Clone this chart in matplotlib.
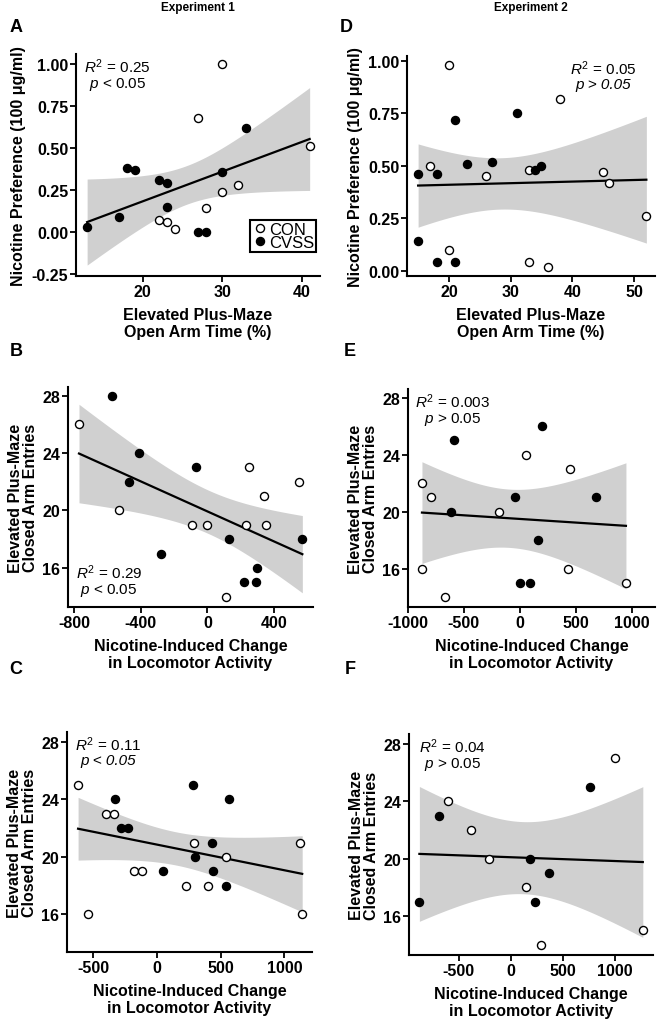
import matplotlib
matplotlib.use('Agg')
import matplotlib.pyplot as plt
import numpy as np
from math import gamma

plt.rcParams['font.family'] = ['Liberation Sans', 'DejaVu Sans']
plt.rcParams['mathtext.fontset'] = 'custom'
plt.rcParams['mathtext.rm'] = 'Liberation Sans'
plt.rcParams['mathtext.it'] = 'Liberation Sans:italic'
plt.rcParams['axes.unicode_minus'] = False

# ---- data ----
# A: Experiment 1, open arm time vs nicotine preference
a_con_x = [22, 23, 24, 27, 28, 30, 30, 32, 41]
a_con_y = [0.07, 0.06, 0.02, 0.68, 0.14, 1.00, 0.24, 0.28, 0.51]
a_cvss_x = [13, 17, 18, 19, 22, 23, 23, 27, 28, 30, 33]
a_cvss_y = [0.03, 0.09, 0.38, 0.37, 0.31, 0.29, 0.15, 0.00, 0.00, 0.36, 0.62]

# D: Experiment 2, open arm time vs nicotine preference
d_con_x = [17, 20, 20, 26, 33, 33, 36, 38, 45, 46, 52]
d_con_y = [0.50, 0.98, 0.10, 0.45, 0.48, 0.04, 0.02, 0.82, 0.47, 0.42, 0.26]
d_cvss_x = [15, 15, 18, 18, 21, 21, 23, 27, 31, 34, 35]
d_cvss_y = [0.46, 0.14, 0.46, 0.04, 0.72, 0.04, 0.51, 0.52, 0.75, 0.48, 0.50]

# B: Experiment 1, locomotor change vs closed arm entries
b_con_x = [-770, -530, -90, 0, 230, 250, 340, 350, 550, 110]
b_con_y = [26, 20, 19, 19, 19, 23, 21, 19, 22, 14]
b_cvss_x = [-570, -410, -470, -70, -280, 130, 570, 300, 220, 290]
b_cvss_y = [28, 24, 22, 23, 17, 18, 18, 16, 15, 15]

# E: Experiment 2, locomotor change vs closed arm entries
e_con_x = [-875, -795, -190, 60, 450, -875, 430, 950, -670]
e_con_y = [22, 21, 20, 24, 23, 16, 16, 15, 14]
e_cvss_x = [-590, 200, -615, -40, 680, 160, 0, 95]
e_cvss_y = [25, 26, 20, 21, 21, 18, 15, 15]

# C: Experiment 1, locomotor change vs closed arm entries
c_con_x = [-620, -400, -340, -180, -120, 290, 540, 225, 400, 1120, -540, 1140]
c_con_y = [25, 23, 23, 19, 19, 21, 20, 18, 18, 21, 16, 16]
c_cvss_x = [-330, -280, -230, 280, 565, 435, 300, 50, 440, 545]
c_cvss_y = [24, 22, 22, 25, 24, 21, 20, 19, 19, 18]

# F: Experiment 2, locomotor change vs closed arm entries
f_con_x = [1000, -600, -380, -210, 145, 290, 1270]
f_con_y = [27, 24, 22, 20, 18, 14, 15]
f_cvss_x = [-880, -690, 180, 370, 235, 760]
f_cvss_y = [17, 23, 20, 19, 17, 25]

stats_a = ('0.25', '0.05', '<', False)
stats_d = ('0.05', '0.05', '>', True)
stats_b = ('0.29', '0.05', '<', False)
stats_e = ('0.003', '0.05', '>', False)
stats_c = ('0.11', '0.05', '<', True)
stats_f = ('0.04', '0.05', '>', False)


def t_crit(df, q=0.975):
    x = np.linspace(0, 12, 240001)
    c = gamma((df + 1) / 2) / (np.sqrt(df * np.pi) * gamma(df / 2))
    pdf = c * (1 + x ** 2 / df) ** (-(df + 1) / 2)
    cdf = 0.5 + np.cumsum(pdf) * (x[1] - x[0])
    return x[np.searchsorted(cdf, q)]


def fit_band(x, y):
    x = np.asarray(x, float)
    y = np.asarray(y, float)
    n = len(x)
    b, a = np.polyfit(x, y, 1)
    xs = np.linspace(x.min(), x.max(), 200)
    yhat = a + b * xs
    resid = y - (a + b * x)
    s = np.sqrt(np.sum(resid ** 2) / (n - 2))
    se = s * np.sqrt(1 / n + (xs - x.mean()) ** 2 / np.sum((x - x.mean()) ** 2))
    t = t_crit(n - 2)
    return xs, yhat, yhat - t * se, yhat + t * se


def panel(ax, con_x, con_y, cvss_x, cvss_y, xlim, ylim, xticks, yticks, yfmt):
    allx = list(con_x) + list(cvss_x)
    ally = list(con_y) + list(cvss_y)
    xs, yhat, lo, hi = fit_band(allx, ally)
    ax.fill_between(xs, lo, hi, color='#d0d0d0', lw=0, zorder=1)
    ax.plot(xs, yhat, color='black', lw=1.6, zorder=2)
    ax.plot(con_x, con_y, 'o', ms=5.8, mfc='white', mec='black', mew=1.0, zorder=3, label='CON')
    ax.plot(cvss_x, cvss_y, 'o', ms=5.8, mfc='black', mec='black', mew=1.0, zorder=3, label='CVSS')
    ax.set_xlim(xlim)
    ax.set_ylim(ylim)
    ax.set_xticks(xticks)
    ax.set_yticks(yticks)
    ax.set_yticklabels([yfmt.format(v) for v in yticks])
    for s in ['top', 'right']:
        ax.spines[s].set_visible(False)
    for s in ['left', 'bottom']:
        ax.spines[s].set_linewidth(1.5)
    ax.tick_params(width=1.3, length=4, labelsize=11.5, pad=1.5)
    for lab in ax.get_xticklabels() + ax.get_yticklabels():
        lab.set_fontweight('bold')


def stat_text(ax, x, y, stats):
    r2, p, sign, ital = stats
    ax.text(x, y, r'$R^2$ = ' + r2, transform=ax.transAxes, fontsize=11,
            ha='center', va='top')
    if ital:
        ax.text(x, y - 0.085, 'p ' + sign + ' ' + p, transform=ax.transAxes,
                fontsize=11, ha='center', va='top', style='italic')
    else:
        ax.text(x, y - 0.085, r'$p$ ' + sign + ' ' + p, transform=ax.transAxes,
                fontsize=11, ha='center', va='top')


fig = plt.figure(figsize=(6.58, 10.2), dpi=100)
W, H = 658.0, 1020.0


def add_ax(left, right, top, bottom):
    return fig.add_axes([left / W, 1 - bottom / H, (right - left) / W, (bottom - top) / H])


axA = add_ax(76, 320, 55, 277)
axD = add_ax(407, 655, 57, 277)
axB = add_ax(68, 313, 388, 608)
axE = add_ax(408, 655, 390, 608)
axC = add_ax(67, 312, 733, 953)
axF = add_ax(409, 653, 735, 956)

panel(axA, a_con_x, a_con_y, a_cvss_x, a_cvss_y, (11.6, 42.3), (-0.262, 1.06),
      [20, 30, 40], [-0.25, 0, 0.25, 0.5, 0.75, 1.0], '{:.2f}')
panel(axD, d_con_x, d_con_y, d_cvss_x, d_cvss_y, (13.2, 53.4), (-0.025, 1.024),
      [20, 30, 40, 50], [0, 0.25, 0.5, 0.75, 1.0], '{:.2f}')
panel(axB, b_con_x, b_con_y, b_cvss_x, b_cvss_y, (-836, 634), (13.28, 28.6),
      [-800, -400, 0, 400], [16, 20, 24, 28], '{:d}')
panel(axE, e_con_x, e_con_y, e_cvss_x, e_cvss_y, (-1000, 1210), (13.3, 28.6),
      [-1000, -500, 0, 500, 1000], [16, 20, 24, 28], '{:d}')
panel(axC, c_con_x, c_con_y, c_cvss_x, c_cvss_y, (-707, 1217), (13.38, 28.7),
      [-500, 0, 500, 1000], [16, 20, 24, 28], '{:d}')
panel(axF, f_con_x, f_con_y, f_cvss_x, f_cvss_y, (-980, 1368), (13.29, 28.7),
      [-500, 0, 500, 1000], [16, 20, 24, 28], '{:d}')

stat_text(axA, 0.17, 0.99, stats_a)
stat_text(axD, 0.79, 0.99, stats_d)
stat_text(axB, 0.167, 0.205, stats_b)
stat_text(axE, 0.18, 0.99, stats_e)
stat_text(axC, 0.17, 0.99, stats_c)
stat_text(axF, 0.18, 0.99, stats_f)

# labels
lab_kw = dict(fontsize=11.5, fontweight='bold')
for ax in (axA, axD):
    ax.set_xlabel('Elevated Plus-Maze\nOpen Arm Time (%)', linespacing=1.15, labelpad=6, **lab_kw)
    ax.set_ylabel('Nicotine Preference (100 μg/ml)', labelpad=4, **lab_kw)
for ax in (axB, axE, axC, axF):
    ax.set_xlabel('Nicotine-Induced Change\nin Locomotor Activity', linespacing=1.15, labelpad=6, **lab_kw)
    ax.set_ylabel('Elevated Plus-Maze\nClosed Arm Entries', linespacing=1.0, labelpad=3, **lab_kw)

leg = axA.legend(loc='lower right', bbox_to_anchor=(0.985, 0.11), fontsize=12,
                 handletextpad=0.05, borderpad=0.1, labelspacing=-0.1,
                 handlelength=1.0, borderaxespad=0.0, fancybox=False, framealpha=1)
leg.get_frame().set_edgecolor('black')
leg.get_frame().set_linewidth(1.5)

# column titles and panel letters
fig.text(198 / W, 1 - 8 / H, 'Experiment 1', ha='center', va='center', fontsize=8.5, fontweight='bold')
fig.text(531 / W, 1 - 8 / H, 'Experiment 2', ha='center', va='center', fontsize=8.5, fontweight='bold')
for letter, x, y in [('A', 16, 27), ('D', 346, 27), ('B', 16, 352), ('E', 350, 352),
                     ('C', 16, 670), ('F', 350, 670)]:
    fig.text(x / W, 1 - y / H, letter, ha='center', va='center', fontsize=13, fontweight='bold')

fig.savefig('out.png', dpi=100)
